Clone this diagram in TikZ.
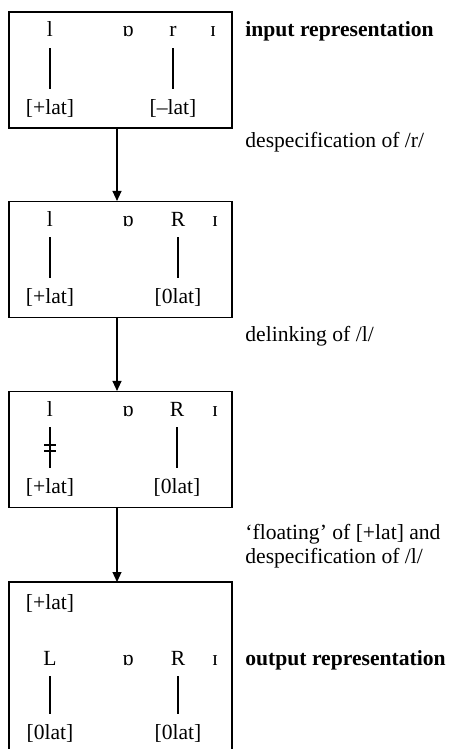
\documentclass[tikz,border=0pt]{standalone}
\usepackage{fontspec}
\setmainfont{Liberation Serif}
\usetikzlibrary{arrows.meta}
\begin{document}
\begin{tikzpicture}[x=0.5pt,y=-0.5pt,
  font=\fontsize{10.8}{13}\selectfont,
  seg/.style={inner sep=0pt, anchor=base},
  assoc/.style={line width=0.55pt, shorten <=5.5pt, shorten >=5pt},
  stage/.style={draw, line width=0.55pt, inner sep=0pt, minimum width=111.5pt, minimum height=58pt},
  flow/.style={-{Triangle[length=5pt,width=4.5pt]}, line width=0.55pt},
  lab/.style={anchor=base west, inner sep=0pt}]
\useasboundingbox (0,0) rectangle (459,749);

% stage boxes
\node[stage] (b1) at (120.5,70) {};
\node[stage] (b2) at (120.5,259.5) {};
\node[stage] (b3) at (120.5,449.5) {};
\draw[line width=0.55pt] (9,760) -- (9,582) coordinate (b4w) -- (232,582) coordinate (b4e) -- (232,760);
\coordinate (ax) at (117,0);
\coordinate (b4) at (117,582);

% box 1
\node[seg] (l1) at (50,37) {l};
\node[seg] (o1) at (128,37) {ɒ};
\node[seg] (r1) at (173,37) {r};
\node[seg] (i1) at (213,37) {ɪ};
\node[seg] (fl1) at (50,114) {[+lat]};
\node[seg] (fr1) at (173,114) {[–lat]};
\draw[assoc] (l1) -- (fl1);
\draw[assoc] (r1) -- (fr1);

% box 2
\node[seg] (l2) at (50,226) {l};
\node[seg] (o2) at (128,226) {ɒ};
\node[seg] (r2) at (178,226) {R};
\node[seg] (i2) at (215,226) {ɪ};
\node[seg] (fl2) at (50,303) {[+lat]};
\node[seg] (fr2) at (178,303) {[0lat]};
\draw[assoc] (l2) -- (fl2);
\draw[assoc] (r2) -- (fr2);

% box 3
\node[seg] (l3) at (50,416) {l};
\node[seg] (o3) at (128,416) {ɒ};
\node[seg] (r3) at (177,416) {R};
\node[seg] (i3) at (215,416) {ɪ};
\node[seg] (fl3) at (50,493) {[+lat]};
\node[seg] (fr3) at (177,493) {[0lat]};
\draw[assoc] (l3) -- (fl3);
\draw[assoc] (r3) -- (fr3);
\draw[line width=0.55pt] (44,445) -- (56,445) (44,451) -- (56,451);

% box 4
\node[seg] (fl4) at (50,609) {[+lat]};
\node[seg] (l4) at (50,665) {L};
\node[seg] (o4) at (128,665) {ɒ};
\node[seg] (r4) at (178,665) {R};
\node[seg] (i4) at (215,665) {ɪ};
\node[seg] (fa4) at (50,739) {[0lat]};
\node[seg] (fb4) at (178,739) {[0lat]};
\draw[assoc] (l4) -- (fa4);
\draw[assoc] (r4) -- (fb4);

% arrows
\draw[flow] (b1.south -| ax) -- (b2.north -| ax);
\draw[flow] (b2.south -| ax) -- (b3.north -| ax);
\draw[flow] (b3.south -| ax) -- (b4);

% labels
\node[lab] (t1) at (245,37) {\textbf{input representation}};
\node[lab] (t2) at (245,148) {despecification of /r/};
\node[lab] (t3) at (245,341) {delinking of /l/};
\node[lab] (t4) at (245,539) {‘floating’ of [+lat] and};
\node[lab] (t5) at (245,563) {despecification of /l/};
\node[lab] (t6) at (245,665) {\textbf{output representation}};
\end{tikzpicture}
\end{document}
